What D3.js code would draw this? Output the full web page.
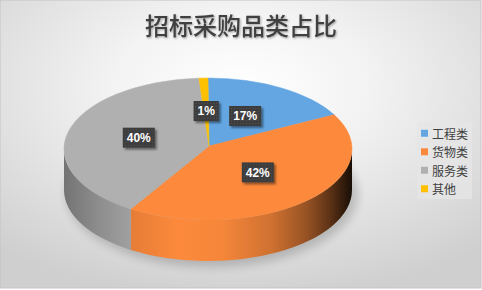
<!DOCTYPE html>
<html>
<head>
<meta charset="utf-8">
<script src="https://cdn.jsdelivr.net/npm/d3@7"></script>
<style>
  body { margin: 0; background: #fff; }
  svg { display: block; }
  .title { font-family: "Noto Sans CJK SC", sans-serif; font-size: 24px; font-weight: 500; fill: #404040; }
  .legend text { font-family: "Noto Sans CJK SC", sans-serif; font-size: 12px; fill: #404040; }
  .lbl text { font-family: "Liberation Sans", Arial, sans-serif; font-size: 12px; font-weight: bold; fill: #fff; }
</style>
</head>
<body>
<svg id="chart" width="482" height="290"></svg>
<script>
// data
var categories = ["工程类", "货物类", "服务类", "其他"];
var values = [17, 42, 40, 1];
var labels = ["17%", "42%", "40%", "1%"];
var colors = ["#64a6e2", "#fd8a3c", "#b0b0b0", "#ffc000"];

var cx = 208, cy = 149, rx = 144, ry = 71, depth = 41;
// apex of the slices sits a little above the ellipse centre (perspective)
var ax = 209, ay = 146;

var svg = d3.select("#chart");
var defs = svg.append("defs");

// background
var bg = defs.append("radialGradient").attr("id", "bg")
    .attr("cx", "50%").attr("cy", "30%").attr("r", "75%");
bg.append("stop").attr("offset", "0%").attr("stop-color", "#ffffff");
bg.append("stop").attr("offset", "35%").attr("stop-color", "#f3f3f3");
bg.append("stop").attr("offset", "100%").attr("stop-color", "#cfcfcf");
svg.append("rect").attr("x", 0).attr("y", 0).attr("width", 481).attr("height", 288)
    .attr("fill", "url(#bg)").attr("stroke", "#c4c4c4").attr("stroke-width", 1);

// filters
var sh = defs.append("filter").attr("id", "shadow").attr("x", "-30%").attr("y", "-30%").attr("width", "160%").attr("height", "170%");
sh.append("feDropShadow").attr("dx", 2).attr("dy", 2).attr("stdDeviation", 1.3)
    .attr("flood-color", "#000").attr("flood-opacity", 0.45);
var tsh = defs.append("filter").attr("id", "tshadow");
tsh.append("feDropShadow").attr("dx", 1).attr("dy", 1).attr("stdDeviation", 0.8)
    .attr("flood-color", "#000").attr("flood-opacity", 0.35);
var blur = defs.append("filter").attr("id", "blur").attr("x", "-20%").attr("y", "-40%").attr("width", "140%").attr("height", "180%");
blur.append("feGaussianBlur").attr("stdDeviation", 5);

// dotted texture for label boxes
var pat = defs.append("pattern").attr("id", "dots").attr("width", 3).attr("height", 3)
    .attr("patternUnits", "userSpaceOnUse");
pat.append("rect").attr("width", 3).attr("height", 3).attr("fill", "#3c3c3c");
pat.append("rect").attr("x", 1).attr("y", 1).attr("width", 1).attr("height", 1).attr("fill", "#555");

// title
svg.append("text").attr("class", "title")
    .attr("x", 241).attr("y", 24)
    .attr("text-anchor", "middle").attr("dominant-baseline", "central")
    .attr("filter", "url(#tshadow)")
    .text("招标采购品类占比");

var pie = d3.pie().sort(null).value(function (d) { return d; });
var arcs = pie(values);

function px(a, f) { return cx + rx * f * Math.sin(a); }
function py(a, f) { return cy - ry * f * Math.cos(a); }

// soft shadow under the pie
svg.append("ellipse").attr("cx", cx + 4).attr("cy", cy + depth + 4)
    .attr("rx", rx + 2).attr("ry", ry + 2)
    .attr("fill", "#000").attr("opacity", 0.18).attr("filter", "url(#blur)");

// side shading: brightness along x
var shade = [[0, 0.66], [0.12, 0.8], [0.22, 0.9], [0.4, 1.0], [0.55, 0.97], [0.72, 0.82], [0.84, 0.6], [0.92, 0.38], [0.97, 0.2], [1, 0.1]];
colors.forEach(function (c, i) {
    var g = defs.append("linearGradient").attr("id", "side" + i)
        .attr("gradientUnits", "userSpaceOnUse")
        .attr("x1", cx - rx).attr("x2", cx + rx).attr("y1", 0).attr("y2", 0);
    var base = d3.rgb(c);
    shade.forEach(function (s) {
        g.append("stop").attr("offset", s[0])
            .attr("stop-color", d3.rgb(base.r * s[1], base.g * s[1], base.b * s[1]).formatHex());
    });
});

// sides (front half only)
var sides = svg.append("g");
arcs.forEach(function (d, i) {
    var b0 = Math.max(d.startAngle, Math.PI / 2);
    var b1 = Math.min(d.endAngle, 3 * Math.PI / 2);
    if (b1 <= b0) return;
    var p = "M" + px(b0, 1) + "," + py(b0, 1) +
        "A" + rx + "," + ry + " 0 0 1 " + px(b1, 1) + "," + py(b1, 1) +
        "L" + px(b1, 1) + "," + (py(b1, 1) + depth) +
        "A" + rx + "," + ry + " 0 0 0 " + px(b0, 1) + "," + (py(b0, 1) + depth) + "Z";
    sides.append("path").attr("d", p).attr("fill", "url(#side" + i + ")");
});

// top faces
var tops = svg.append("g");
arcs.forEach(function (d, i) {
    var large = (d.endAngle - d.startAngle) > Math.PI ? 1 : 0;
    var p = "M" + ax + "," + ay +
        "L" + px(d.startAngle, 1) + "," + py(d.startAngle, 1) +
        "A" + rx + "," + ry + " 0 " + large + " 1 " + px(d.endAngle, 1) + "," + py(d.endAngle, 1) + "Z";
    tops.append("path").attr("d", p).attr("fill", colors[i])
        .attr("stroke", colors[i]).attr("stroke-width", 0.5);
});

// data labels
var lg = svg.append("g").attr("class", "lbl");
arcs.forEach(function (d, i) {
    var m = (d.startAngle + d.endAngle) / 2;
    var x = ax + (px(m, 1) - ax) * 0.5;
    var y = ay + (py(m, 1) - ay) * 0.5 - 1;
    var g = lg.append("g").attr("transform", "translate(" + x + "," + y + ")");
    var box = g.append("rect");
    var t = g.append("text").attr("text-anchor", "middle").attr("dy", "0.36em").text(labels[i]);
    var w = t.node().getComputedTextLength() + 8;
    box.attr("x", -w / 2).attr("y", -10).attr("width", w).attr("height", 20)
        .attr("fill", "url(#dots)").attr("filter", "url(#shadow)");
});

// legend
var leg = svg.append("g").attr("class", "legend");
leg.append("rect").attr("x", 417).attr("y", 122).attr("width", 55).attr("height", 77)
    .attr("fill", "#e6e6e6").attr("opacity", 0.75);
var ly = d3.scaleBand().domain(categories).range([124, 198]);
categories.forEach(function (c, i) {
    var yy = ly(c) + ly.bandwidth() / 2;
    leg.append("rect").attr("x", 421).attr("y", yy - 3.5).attr("width", 7).attr("height", 7).attr("fill", colors[i]);
    leg.append("text").attr("x", 432).attr("y", yy).attr("dominant-baseline", "central").text(c);
});
</script>
</body>
</html>
